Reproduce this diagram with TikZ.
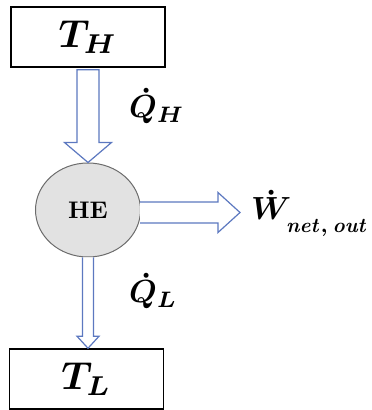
\documentclass[tikz,border=0pt]{standalone}
\usepackage{amsmath}
\usepackage{graphicx}
\usetikzlibrary{calc,positioning,shapes.geometric}

\definecolor{flowblue}{RGB}{92,120,192}
\definecolor{hegray}{RGB}{226,226,226}

\tikzset{
  resbox/.style={draw=black, line width=1.5pt, minimum width=154pt, minimum height=60pt, inner sep=0pt,
    font=\boldmath},
  engine/.style={ellipse, draw=gray!85!black, fill=hegray, line width=1pt, minimum width=105pt,
    minimum height=94pt, inner sep=0pt, font=\bfseries},
  flow/.style={draw=flowblue, line width=1.2pt, fill=white, line join=miter},
  lbl/.style={inner sep=0pt, anchor=base west, font=\boldmath}
}

\begin{document}
\begin{tikzpicture}[x=1pt,y=1pt]
  \useasboundingbox (0,0) rectangle (372,410);

  % reservoirs and engine
  \node[resbox] (th) at (88,373) {\scalebox{3.9}{$T_H$}};
  \node[resbox] (tl) at (86.5,31) {\scalebox{3.9}{$T_L$}};
  \node[engine] (he) at (88,200) {\scalebox{2.4}{HE}};

  % heat in
  \draw[flow] ($(th.south)+(-11,-2)$) -- ($(he.north)+(-11,20)$) -- ++(-12.5,0)
    -- (he.north) -- ($(he.north)+(23.5,20)$) -- ++(-12.5,0) -- ($(th.south)+(11,-2)$) -- cycle;
  % work out
  \coordinate (wtip) at (240,197.5);
  \draw[flow] ($(he.east)+(-1,8)$) -- ($(wtip)+(-22,10.5)$) -- ++(0,9.5)
    -- (wtip) -- ($(wtip)+(-22,-20)$) -- ++(0,9.5) -- ($(he.east)+(-1,-13)$);
  % heat out
  \draw[flow] ($(he.south)+(-5.5,0)$) -- ($(tl.north)+(-4,12)$) -- ++(-5.5,0)
    -- ($(tl.north)+(1.5,0)$) -- ($(tl.north)+(12.5,12)$) -- ++(-5.5,0) -- ($(he.south)+(5.5,0)$);

  % labels
  \node[lbl] (qh) at (129,292) {\scalebox{3.2}{$\dot{Q}_H$}};
  \node[lbl] (ql) at (129,107) {\scalebox{3.2}{$\dot{Q}_L$}};
  \node[lbl] (wout) at (251,190)
    {\scalebox{3.2}{$\dot{W}_{\raisebox{-2.5pt}{\scalebox{0.92}{$\scriptstyle\mathit{net,\,out}$}}}$}};
\end{tikzpicture}
\end{document}
